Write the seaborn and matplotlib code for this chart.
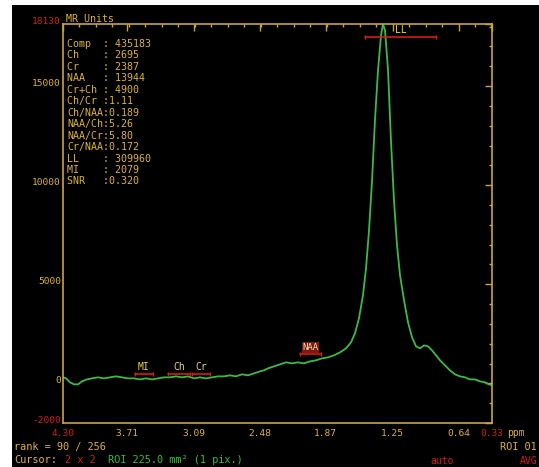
import matplotlib
matplotlib.use("Agg")
import matplotlib.pyplot as plt
import seaborn as sns
import numpy as np
import pandas as pd
from matplotlib.patches import Rectangle
from matplotlib.ticker import FixedLocator

# ---------------- data ----------------
ppm = [4.300, 4.272, 4.235, 4.198, 4.161, 4.124, 4.078, 4.032, 3.976, 3.921,
       3.865, 3.810, 3.754, 3.699, 3.643, 3.587, 3.532, 3.476, 3.421, 3.365,
       3.310, 3.254, 3.199, 3.143, 3.088, 3.032, 2.977, 2.921, 2.866, 2.810,
       2.755, 2.699, 2.644, 2.588, 2.532, 2.477, 2.440, 2.403, 2.347, 2.292,
       2.236, 2.181, 2.125, 2.070, 2.014, 1.959, 1.903, 1.848, 1.792, 1.737,
       1.681, 1.635, 1.598, 1.561, 1.524, 1.496, 1.468, 1.440, 1.413, 1.385,
       1.357, 1.339, 1.320, 1.292, 1.265, 1.237, 1.209, 1.181, 1.144, 1.107,
       1.070, 1.033, 0.996, 0.959, 0.922, 0.885, 0.848, 0.811, 0.765, 0.719,
       0.672, 0.626, 0.580, 0.534, 0.487, 0.441, 0.395, 0.358, 0.330]
intensity = [303, 252, 50, -50, -50, 100, 200, 252, 303, 252,
             303, 353, 303, 252, 252, 200, 252, 200, 252, 303,
             303, 353, 303, 353, 252, 303, 252, 303, 353, 353,
             404, 353, 454, 404, 505, 605, 656, 757, 858, 959,
             1059, 1009, 1059, 1009, 1110, 1160, 1261, 1312, 1413, 1564,
             1766, 2068, 2523, 3279, 4440, 5802, 7719, 10241, 13268, 15791,
             17557, 18130, 17809, 15791, 12259, 9232, 6962, 5449, 4187, 3077,
             2321, 1867, 1766, 1917, 1867, 1665, 1413, 1160, 908, 656,
             454, 353, 303, 200, 200, 100, 50, -50, -100]

x_tick_vals = [4.30, 3.71, 3.09, 2.48, 1.87, 1.25, 0.64, 0.33]
x_tick_labels = ["4.30", "3.71", "3.09", "2.48", "1.87", "1.25", "0.64", "0.33"]
y_tick_vals = [18130, 15000, 10000, 5000, 0, -2000]
y_tick_labels = ["18130", "15000", "10000", "5000", "0", "-2000"]

peak_names = ["MI", "Ch", "Cr", "NAA", "LL"]
peak_start = [3.634, 3.328, 3.106, 2.107, 1.505]
peak_end = [3.467, 3.125, 2.940, 1.912, 0.848]
peak_level = [454, 454, 454, 1463, 17456]

stat_names = ["Comp  : ", "Ch    : ", "Cr    : ", "NAA   : ", "Cr+Ch : ",
              "Ch/Cr :", "Ch/NAA:", "NAA/Ch:", "NAA/Cr:", "Cr/NAA:",
              "LL    : ", "MI    : ", "SNR   :"]
stat_values = ["435183", "2695", "2387", "13944", "4900",
               "1.11", "0.189", "5.26", "5.80", "0.172",
               "309960", "2079", "0.320"]

df = pd.DataFrame({"ppm": ppm, "intensity": intensity})

# ---------------- style ----------------
YEL = "#dcb23c"
SPINE = "#c8a448"
RED = "#d41c14"
GREEN = "#3cba46"
GTEXT = "#2fc03a"
MONO = "DejaVu Sans Mono"

sns.set_theme(style="dark")
plt.rcParams["font.family"] = [MONO]

W, H = 539, 467
fig = plt.figure(figsize=(W / 100, H / 100), dpi=100, facecolor="white")
fig.patches.append(Rectangle((12 / W, 0), 1 - 12 / W, 1 - 5 / H,
                             transform=fig.transFigure, facecolor="black",
                             edgecolor="none", zorder=-10))


def px(x, y):
    return x / W, 1 - y / H


ax = fig.add_axes([63 / W, 1 - 423 / H, (492 - 63) / W, (423 - 24) / H])
ax.set_facecolor("black")
ax.grid(False)

sns.lineplot(data=df, x="ppm", y="intensity", ax=ax, color=GREEN,
             linewidth=1.3, errorbar=None)

ax.set_xlim(4.30, 0.33)
ax.set_ylim(-2000, 18130)
ax.set_xlabel("")
ax.set_ylabel("")

for s in ax.spines.values():
    s.set_color(SPINE)
    s.set_linewidth(1.2)
    s.set_visible(True)

ax.set_xticks(x_tick_vals)
ax.set_xticklabels(x_tick_labels)
ax.xaxis.set_minor_locator(FixedLocator([4.30 - k * 0.1525 for k in range(27)]))
ax.set_yticks(y_tick_vals)
ax.set_yticklabels(y_tick_labels)
ax.yaxis.set_minor_locator(FixedLocator(list(range(-2000, 18001, 1000))))

ax.tick_params(axis="x", which="major", direction="in", length=5, width=1.0,
               color=SPINE, labelsize=6.8, pad=4, top=True)
ax.tick_params(axis="x", which="minor", direction="in", length=2.5, width=1.0,
               color=SPINE, top=True)
ax.tick_params(axis="y", which="major", direction="in", length=5, width=1.0,
               color=SPINE, labelsize=6.8, pad=1.5, right=True)
ax.tick_params(axis="y", which="minor", direction="in", length=2.5, width=1.0,
               color=SPINE, right=True)

for t, lab in zip(ax.get_xticklabels(), x_tick_labels):
    t.set_color(RED if lab in ("4.30", "0.33") else YEL)
for t, lab in zip(ax.get_yticklabels(), y_tick_labels):
    t.set_color(RED if lab in ("18130", "-2000") else YEL)
    t.set_va("baseline")

# peak range markers
for name, a, b, lvl in zip(peak_names, peak_start, peak_end, peak_level):
    ax.plot([a, b], [lvl, lvl], color=RED, linewidth=1.2, marker="|",
            markersize=3, markeredgewidth=1.0)
    if name == "NAA":
        ax.annotate(name, xy=((a + b) / 2, lvl), xytext=(0, 1.5),
                    textcoords="offset points", ha="center", va="bottom",
                    fontsize=6.5, color="#f0d8b0",
                    bbox=dict(boxstyle="square,pad=0.1", facecolor="#7a1a10",
                              edgecolor="none"))
    else:
        col = "#e8d040" if name in ("MI", "LL") else "#e8c8a0"
        ax.annotate(name, xy=((a + b) / 2, lvl), xytext=(0, 1.5),
                    textcoords="offset points", ha="center", va="bottom",
                    fontsize=7, color=col)

# header text
fig.text(*px(66, 19), "MR Units", color=YEL, fontsize=7.2, va="center", ha="left")

# stats block
for i, (n, v) in enumerate(zip(stat_names, stat_values)):
    fig.text(*px(67, 44 + i * 11.45), n + v, color=YEL, fontsize=7.2,
             va="center", ha="left")

fig.text(*px(507, 433), "ppm", color=YEL, fontsize=7, va="center", ha="left")

# bottom status lines
fig.text(*px(14, 447), "rank = 90 / 256", color=YEL, fontsize=7.4,
         va="center", ha="left")
fig.text(*px(14, 460), "Cursor:", color=YEL, fontsize=7.4, va="center", ha="left")
fig.text(*px(65, 460), "2 x 2", color=RED, fontsize=7.4, va="center", ha="left")
fig.text(*px(108, 460), "ROI 225.0 mm² (1 pix.)", color=GTEXT, fontsize=7.4,
         va="center", ha="left")
fig.text(*px(537, 447), "ROI 01", color=YEL, fontsize=7.4, va="center", ha="right")
fig.text(*px(430, 461), "auto", color=RED, fontsize=7.0, va="center", ha="left")
fig.text(*px(520, 461), "AVG", color=RED, fontsize=7.0, va="center", ha="left")

fig.savefig("out.png", dpi=100, facecolor=fig.get_facecolor())
